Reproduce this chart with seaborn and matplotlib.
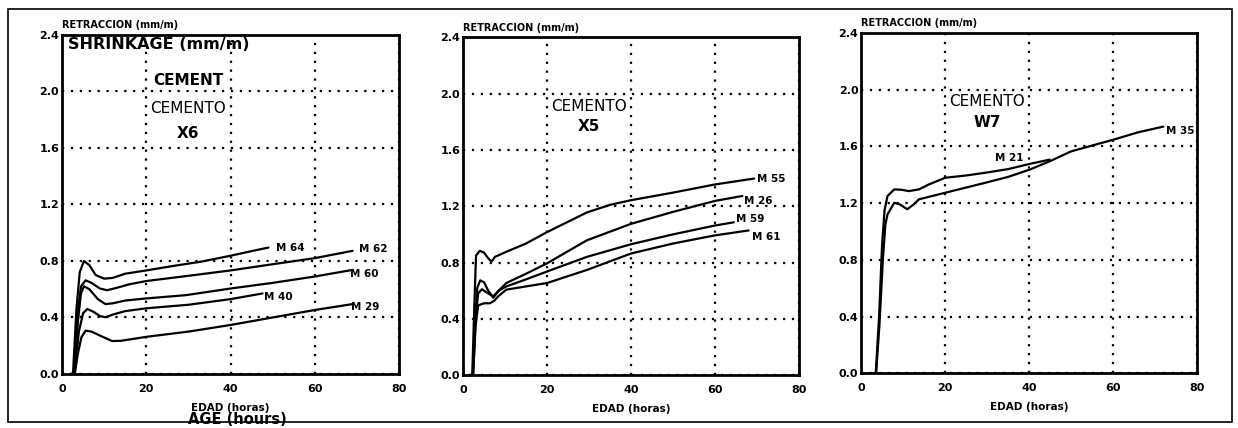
import matplotlib
matplotlib.use("Agg")
import matplotlib.pyplot as plt
from matplotlib.patches import Rectangle
import numpy as np
import pandas as pd
import seaborn as sns

# ---------------- data: shrinkage (mm/m) vs age (hours) ----------------
# Cement X6
x6_m64_h = [2.0, 2.6, 3.4, 4.2, 5.2, 6.5, 8.0, 10.0, 12.0, 15.0, 20.0, 26.0, 33.0, 40.0, 45.0, 49.0]
x6_m64_v = [0.0, 0.0, 0.45, 0.72, 0.80, 0.77, 0.70, 0.675, 0.68, 0.71, 0.733, 0.763, 0.795, 0.837, 0.87, 0.895]
x6_m62_h = [2.0, 2.8, 3.6, 4.5, 5.6, 7.0, 9.0, 10.7, 13.0, 16.0, 20.0, 30.0, 40.0, 50.0, 60.0, 69.0]
x6_m62_v = [0.0, 0.0, 0.40, 0.62, 0.663, 0.645, 0.605, 0.593, 0.61, 0.635, 0.658, 0.695, 0.733, 0.777, 0.82, 0.872]
x6_m60_h = [2.0, 3.0, 3.8, 4.5, 5.2, 6.5, 8.5, 10.3, 12.0, 15.0, 20.0, 29.4, 40.0, 50.0, 60.0, 69.0]
x6_m60_v = [0.0, 0.0, 0.38, 0.57, 0.621, 0.60, 0.53, 0.495, 0.50, 0.52, 0.535, 0.558, 0.605, 0.645, 0.69, 0.737]
x6_m40_h = [2.0, 3.0, 4.0, 5.0, 6.0, 7.5, 9.0, 10.3, 12.0, 15.0, 20.0, 30.0, 40.0, 47.6]
x6_m40_v = [0.0, 0.0, 0.30, 0.43, 0.46, 0.44, 0.41, 0.402, 0.42, 0.445, 0.465, 0.49, 0.53, 0.57]
x6_m29_h = [2.0, 3.0, 3.8, 4.6, 5.6, 7.0, 9.5, 11.9, 14.0, 20.0, 30.0, 40.0, 50.0, 60.0, 69.0]
x6_m29_v = [0.0, 0.0, 0.15, 0.26, 0.307, 0.30, 0.265, 0.233, 0.235, 0.263, 0.30, 0.347, 0.40, 0.453, 0.495]

# Cement X5
x5_m55_h = [1.5, 2.2, 2.7, 3.1, 4.0, 5.0, 6.0, 6.8, 7.6, 10.3, 15.0, 20.0, 29.5, 35.0, 40.0, 50.0, 60.0, 69.3]
x5_m55_v = [0.0, 0.0, 0.50, 0.85, 0.883, 0.87, 0.83, 0.806, 0.84, 0.876, 0.935, 1.016, 1.156, 1.21, 1.243, 1.297, 1.355, 1.397]
x5_m26_h = [1.5, 2.3, 2.9, 3.4, 4.1, 5.0, 6.0, 7.2, 8.5, 10.3, 15.0, 20.0, 29.5, 40.0, 50.0, 60.0, 66.5]
x5_m26_v = [0.0, 0.0, 0.40, 0.62, 0.673, 0.66, 0.60, 0.55, 0.60, 0.654, 0.72, 0.794, 0.958, 1.075, 1.16, 1.238, 1.273]
x5_m59_h = [1.5, 2.4, 3.0, 3.6, 4.5, 6.0, 7.2, 8.5, 10.3, 15.0, 20.0, 29.5, 40.0, 50.0, 60.0, 64.5]
x5_m59_v = [0.0, 0.0, 0.40, 0.58, 0.61, 0.58, 0.56, 0.60, 0.63, 0.68, 0.736, 0.84, 0.93, 1.0, 1.063, 1.086]
x5_m61_h = [1.5, 2.4, 3.0, 3.6, 5.0, 6.4, 7.5, 8.4, 10.3, 15.0, 20.0, 29.5, 40.0, 50.0, 60.0, 68.0]
x5_m61_v = [0.0, 0.0, 0.35, 0.495, 0.51, 0.51, 0.53, 0.56, 0.607, 0.63, 0.654, 0.747, 0.864, 0.935, 0.993, 1.028]

# Cement W7
w7_m21_h = [3.0, 3.5, 4.3, 5.0, 5.6, 6.3, 7.9, 9.5, 11.4, 13.8, 16.0, 20.0, 25.0, 29.5, 35.0, 40.2, 44.9]
w7_m21_v = [0.0, 0.0, 0.40, 0.90, 1.15, 1.25, 1.297, 1.295, 1.285, 1.297, 1.33, 1.379, 1.395, 1.414, 1.44, 1.477, 1.507]
w7_m35_h = [3.0, 3.6, 4.4, 5.2, 5.8, 6.3, 7.9, 9.3, 11.0, 12.5, 13.8, 20.0, 29.5, 35.0, 40.2, 45.3, 50.0, 60.0, 66.0, 72.0]
w7_m35_v = [0.0, 0.0, 0.35, 0.80, 1.05, 1.12, 1.203, 1.19, 1.157, 1.19, 1.227, 1.273, 1.343, 1.385, 1.437, 1.50, 1.565, 1.647, 1.70, 1.74]

x_ticks = [0, 20, 40, 60, 80]
y_ticks = [0.0, 0.4, 0.8, 1.2, 1.6, 2.0, 2.4]
y_tick_labels = ["0.0", "0.4", "0.8", "1.2", "1.6", "2.0", "2.4"]

# (label, hours, values, label offset in points, horizontal alignment)
panels = [
    {
        "cement": "X6",
        "rect": [0.0501, 0.1262, 0.2722, 0.7921],
        "series": [
            ("M 64", x6_m64_h, x6_m64_v, (5.5, 0), "left"),
            ("M 62", x6_m62_h, x6_m62_v, (4.8, 1.6), "left"),
            ("M 60", x6_m60_h, x6_m60_v, (-2, -3.2), "left"),
            ("M 40", x6_m40_h, x6_m40_v, (1.2, -2.3), "left"),
            ("M 29", x6_m29_h, x6_m29_v, (-1.5, -2.3), "left"),
        ],
        "title_y": (1.876, 1.706),
    },
    {
        "cement": "X5",
        "rect": [0.3740, 0.1238, 0.2714, 0.7886],
        "series": [
            ("M 55", x5_m55_h, x5_m55_v, (2, 0), "left"),
            ("M 26", x5_m26_h, x5_m26_v, (1.2, -3.5), "left"),
            ("M 59", x5_m59_h, x5_m59_v, (1.2, 2.4), "left"),
            ("M 61", x5_m61_h, x5_m61_v, (2.7, -4.9), "left"),
        ],
        "title_y": (1.906, 1.764),
    },
    {
        "cement": "W7",
        "rect": [0.6955, 0.1278, 0.2714, 0.7951],
        "series": [
            ("M 21", w7_m21_h, w7_m21_v, (-19, 1.5), "right"),
            ("M 35", w7_m35_h, w7_m35_v, (1.5, -3.5), "left"),
        ],
        "title_y": (1.915, 1.766),
    },
]

sns.set_theme(style="white")
plt.rcParams["font.family"] = ["DejaVu Sans"]
plt.rcParams["text.color"] = "black"
plt.rcParams["axes.labelcolor"] = "black"
plt.rcParams["xtick.color"] = "black"
plt.rcParams["ytick.color"] = "black"

fig = plt.figure(figsize=(12.38, 4.28), dpi=100)
fig.patch.set_facecolor("white")

axes = []
for p in panels:
    ax = fig.add_axes(p["rect"])
    axes.append(ax)
    rows = []
    for name, hrs, vals, _, _ in p["series"]:
        for h, v in zip(hrs, vals):
            rows.append({"hour": h, "shrink": v, "mix": name})
    df = pd.DataFrame(rows)
    names = [s[0] for s in p["series"]]
    sns.lineplot(data=df, x="hour", y="shrink", hue="mix", hue_order=names,
                 palette=["black"] * len(names), estimator=None, legend=False,
                 linewidth=1.6, ax=ax, zorder=3)

    for name, hrs, vals, off, ha in p["series"]:
        ax.annotate(name, xy=(hrs[-1], vals[-1]), xytext=off,
                    textcoords="offset points", ha=ha, va="center",
                    fontsize=7.5, fontweight="bold", color="black", zorder=4)

    ax.set_xlim(0, 80)
    ax.set_ylim(0, 2.4)
    ax.set_xticks(x_ticks)
    ax.set_yticks(y_ticks)
    ax.set_xticklabels([str(t) for t in x_ticks], fontsize=8, fontweight="bold")
    ax.set_yticklabels(y_tick_labels, fontsize=8, fontweight="bold")
    ax.tick_params(axis="x", length=0, pad=7, colors="black")
    ax.tick_params(axis="y", length=0, pad=2, colors="black")
    ax.set_xlabel("")
    ax.set_ylabel("")
    ax.grid(True, color="black", linestyle=(0, (1, 3)), linewidth=1.6)
    ax.set_axisbelow(True)
    for sp in ax.spines.values():
        sp.set_visible(True)
        sp.set_color("black")
        sp.set_linewidth(2.0)
        sp.set_zorder(5)

    ax.annotate("RETRACCION (mm/m)", xy=(0, 1), xycoords="axes fraction",
                xytext=(0, 7), textcoords="offset points", ha="left", va="center",
                fontsize=7, fontweight="bold", color="black")
    ax.text(0.5, -0.10, "EDAD (horas)", transform=ax.transAxes, ha="center",
            va="center", fontsize=7.5, fontweight="bold", color="black")

    ty1, ty2 = p["title_y"]
    ax.text(30, ty1, "CEMENTO", ha="center", va="center", fontsize=11,
            color="black")
    ax.text(30, ty2, p["cement"], ha="center", va="center", fontsize=11,
            fontweight="bold", color="black")

# English captions on the first panel
ax0 = axes[0]
ax0.text(1.4, 2.336, "SHRINKAGE (mm/m)", ha="left", va="center",
         fontsize=11.5, fontweight="bold", color="black")
ax0.text(30, 2.08, "CEMENT", ha="center", va="center", fontsize=11,
         fontweight="bold", color="black")
ax0.text(0.52, -0.135, "AGE (hours)", transform=ax0.transAxes, ha="center",
         va="center", fontsize=10.5, fontweight="bold", color="black")

# outer frame around the whole figure
fig.patches.append(Rectangle((8 / 1238, (428 - 422) / 428), 1224 / 1238, 413 / 428,
                             transform=fig.transFigure, fill=False,
                             edgecolor="black", linewidth=1.2, zorder=10))

fig.savefig("out.png", dpi=100, facecolor="white")
